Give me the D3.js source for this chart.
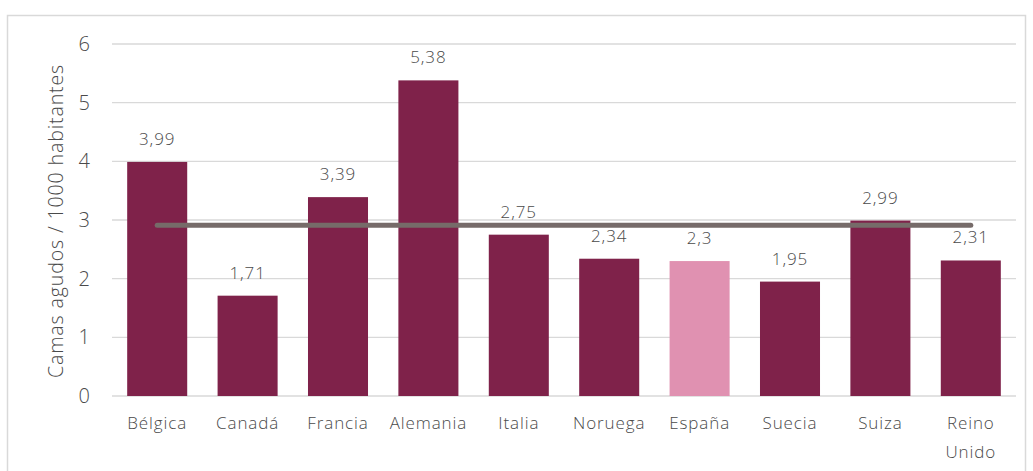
<!DOCTYPE html>
<html>
<head>
<meta charset="utf-8">
<script src="https://cdn.jsdelivr.net/npm/d3@7"></script>
<style>
  html, body { margin: 0; padding: 0; background: #fff; }
  svg text { font-family: "Open Sans", "Noto Sans", sans-serif; font-weight: 300; fill: #4a4a4a; }
</style>
</head>
<body>
<svg id="chart" width="1033" height="471"></svg>
<script>
// Acute-care beds per 1000 inhabitants by country
const countries = ["Bélgica", "Canadá", "Francia", "Alemania", "Italia", "Noruega", "España", "Suecia", "Suiza", "Reino Unido"];
const beds = [3.99, 1.71, 3.39, 5.38, 2.75, 2.34, 2.3, 1.95, 2.99, 2.31];
const yTicks = [0, 1, 2, 3, 4, 5, 6];
const highlight = "España";
const axisTitle = "Camas agudos / 1000 habitantes";

const svg = d3.select("#chart");
const W = 1033, H = 471;
const margin = { left: 112, right: 17, top: 44, bottom: 75 };
const textColor = "#4a4a4a";

// outer frame
svg.append("rect")
  .attr("x", 7.5).attr("y", 15.5)
  .attr("width", W - 15).attr("height", H)
  .attr("fill", "none").attr("stroke", "#d9d9d9").attr("stroke-width", 1.5);

const x = d3.scaleBand()
  .domain(countries)
  .range([margin.left, W - margin.right])
  .paddingInner(0.336).paddingOuter(0.168);

const y = d3.scaleLinear().domain([0, 6]).range([H - margin.bottom, margin.top]);

// horizontal gridlines
svg.append("g").selectAll("line").data(yTicks).join("line")
  .attr("x1", margin.left).attr("x2", W - margin.right)
  .attr("y1", d => y(d)).attr("y2", d => y(d))
  .attr("stroke", "#d9d9d9").attr("stroke-width", 1.3);

// y axis labels
const yAxis = d3.axisLeft(y).tickValues(yTicks).tickSize(0).tickPadding(0).tickFormat(d3.format("d"));
const gy = svg.append("g").attr("transform", "translate(90,0)").call(yAxis);
gy.select(".domain").remove();
gy.selectAll("text").attr("font-size", 20)
  .style("font-family", "'Open Sans', sans-serif").style("font-weight", 300).attr("fill", textColor);

// y axis title
svg.append("text")
  .attr("transform", `translate(63,${(y(0) + y(6)) / 2 + 1}) rotate(-90)`)
  .attr("text-anchor", "middle")
  .attr("font-size", 19.5)
  .attr("letter-spacing", 0.9)
  .text(axisTitle);

// bars
svg.append("g").selectAll("rect").data(countries).join("rect")
  .attr("x", d => x(d))
  .attr("width", x.bandwidth())
  .attr("y", (d, i) => y(beds[i]))
  .attr("height", (d, i) => y(0) - y(beds[i]))
  .attr("fill", d => d === highlight ? "#e091b1" : "#7f224a");

// value labels
const fmt = v => String(v).replace(".", ",");
svg.append("g").selectAll("text").data(countries).join("text")
  .attr("x", d => x(d) + x.bandwidth() / 2)
  .attr("y", (d, i) => y(beds[i]) - 17)
  .attr("text-anchor", "middle")
  .attr("font-size", 17)
  .attr("letter-spacing", 0.9)
  .text((d, i) => fmt(beds[i]));

// mean line
const mean = d3.mean(beds);
svg.append("line")
  .attr("x1", x(countries[0]) + x.bandwidth() / 2)
  .attr("x2", x(countries[countries.length - 1]) + x.bandwidth() / 2)
  .attr("y1", y(mean)).attr("y2", y(mean))
  .attr("stroke", "#766b69").attr("stroke-width", 5).attr("stroke-linecap", "round");

// category labels
const xAxis = d3.axisBottom(x).tickSize(0).tickPadding(0);
const gx = svg.append("g").attr("transform", `translate(0,${y(0)})`).call(xAxis);
gx.select(".domain").remove();
gx.selectAll("text").remove();
gx.selectAll(".tick").each(function(d) {
  const words = d.split(" ");
  const t = d3.select(this).append("text")
    .attr("text-anchor", "middle")
    .attr("font-size", 17)
    .attr("letter-spacing", 0.9)
    .style("font-family", "'Open Sans', sans-serif")
    .style("font-weight", 300)
    .attr("fill", textColor);
  words.forEach((w, i) => {
    t.append("tspan").attr("x", 0).attr("y", 33 + i * 29).text(w);
  });
});
</script>
</body>
</html>
